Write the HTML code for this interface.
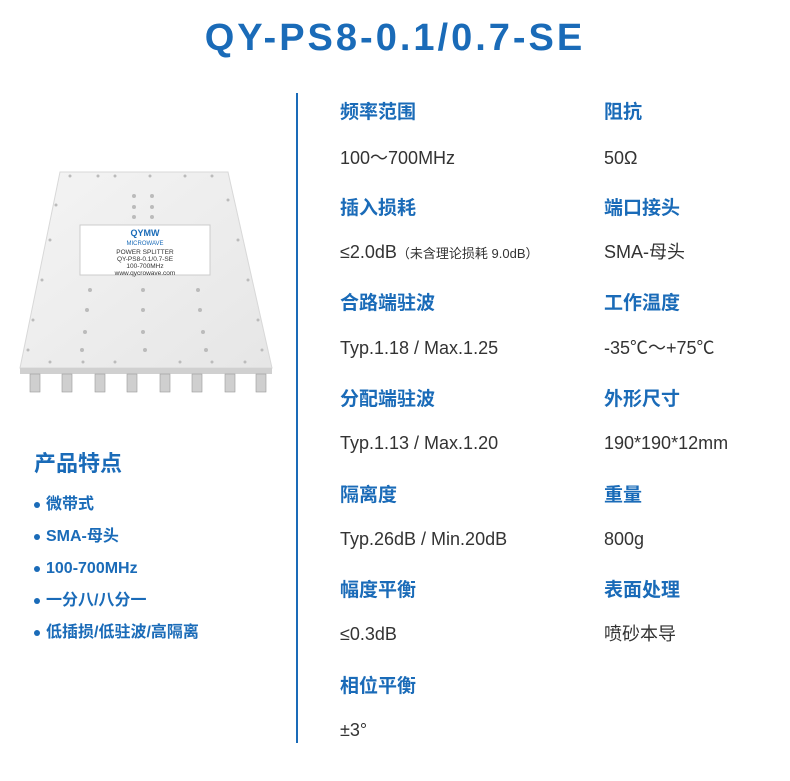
<!DOCTYPE html>
<html><head><meta charset="utf-8"><style>
body{margin:0;width:790px;height:779px;background:#fff;position:relative;overflow:hidden;font-family:"Liberation Sans","Noto Sans CJK SC",sans-serif}
.t{position:absolute;white-space:nowrap;line-height:24px;height:24px}
.h{color:#1a6bb8;font-weight:bold;font-size:19px}
.v{color:#333;font-size:18px}
.f{color:#1a6bb8;font-weight:bold;font-size:16px;left:34px}
.f:before{content:"";display:inline-block;width:6px;height:6px;border-radius:50%;background:#1a6bb8;margin-right:6px;vertical-align:middle}
.r{position:absolute;left:0;top:2px;width:790px;height:779px}
</style></head><body>
<div class="t" style="left:0;width:790px;text-align:center;top:14px;height:48px;line-height:48px;color:#1a6bb8;font-weight:bold;font-size:38px;letter-spacing:3px">QY-PS8-0.1/0.7-SE</div>
<div style="position:absolute;left:296px;top:93px;width:2px;height:650px;background:#1a6bb8"></div>
<svg style="position:absolute;left:0;top:150px" width="290" height="250">
<defs><linearGradient id="g" x1="0" y1="0" x2="1" y2="1"><stop offset="0" stop-color="#f4f4f4"/><stop offset="1" stop-color="#e6e6e6"/></linearGradient></defs>
<polygon points="60,22 228,22 272,218 20,218" fill="url(#g)" stroke="#d8d8d8"/>
<rect x="20" y="218" width="252" height="6" fill="#d0d0d0"/>
<g fill="#bbb">
<circle cx="90" cy="140" r="2"/><circle cx="143" cy="140" r="2"/><circle cx="198" cy="140" r="2"/>
<circle cx="87" cy="160" r="2"/><circle cx="143" cy="160" r="2"/><circle cx="200" cy="160" r="2"/>
<circle cx="85" cy="182" r="2"/><circle cx="143" cy="182" r="2"/><circle cx="203" cy="182" r="2"/>
<circle cx="82" cy="200" r="2"/><circle cx="145" cy="200" r="2"/><circle cx="206" cy="200" r="2"/>
<circle cx="134" cy="46" r="2"/><circle cx="152" cy="46" r="2"/><circle cx="134" cy="57" r="2"/><circle cx="152" cy="57" r="2"/><circle cx="134" cy="67" r="2"/><circle cx="152" cy="67" r="2"/>
<circle cx="70" cy="26" r="1.5"/><circle cx="98" cy="26" r="1.5"/><circle cx="115" cy="26" r="1.5"/><circle cx="150" cy="26" r="1.5"/><circle cx="185" cy="26" r="1.5"/><circle cx="212" cy="26" r="1.5"/>
<circle cx="56" cy="55" r="1.5"/><circle cx="50" cy="90" r="1.5"/><circle cx="42" cy="130" r="1.5"/><circle cx="33" cy="170" r="1.5"/><circle cx="28" cy="200" r="1.5"/>
<circle cx="228" cy="50" r="1.5"/><circle cx="238" cy="90" r="1.5"/><circle cx="248" cy="130" r="1.5"/><circle cx="258" cy="170" r="1.5"/><circle cx="262" cy="200" r="1.5"/>
<circle cx="50" cy="212" r="1.5"/><circle cx="83" cy="212" r="1.5"/><circle cx="115" cy="212" r="1.5"/><circle cx="180" cy="212" r="1.5"/><circle cx="212" cy="212" r="1.5"/><circle cx="245" cy="212" r="1.5"/>
</g>
<rect x="80" y="75" width="130" height="50" fill="#fff" stroke="#ccc"/>
<text x="145" y="86" font-size="9" fill="#1a6bb8" text-anchor="middle" font-weight="bold">QYMW</text>
<text x="145" y="95" font-size="6" fill="#1a6bb8" text-anchor="middle">MICROWAVE</text>
<text x="145" y="104" font-size="6.5" fill="#333" text-anchor="middle">POWER SPLITTER</text>
<text x="145" y="111" font-size="6.5" fill="#333" text-anchor="middle">QY-PS8-0.1/0.7-SE</text>
<text x="145" y="118" font-size="6.5" fill="#333" text-anchor="middle">100-700MHz</text>
<text x="145" y="125" font-size="6.5" fill="#333" text-anchor="middle">www.qycrowave.com</text>
<g fill="#cfcfcf" stroke="#999" stroke-width="0.6">
<rect x="30" y="224" width="10" height="18"/><rect x="62" y="224" width="10" height="18"/><rect x="95" y="224" width="10" height="18"/><rect x="127" y="224" width="10" height="18"/><rect x="160" y="224" width="10" height="18"/><rect x="192" y="224" width="10" height="18"/><rect x="225" y="224" width="10" height="18"/><rect x="256" y="224" width="10" height="18"/>
</g></svg>
<div class="r">
<div class="t" style="left:34px;top:446px;height:32px;line-height:32px;color:#1a6bb8;font-weight:bold;font-size:22px">产品特点</div>
<div class="t f" style="top:491px">微带式</div>
<div class="t f" style="top:523px">SMA-母头</div>
<div class="t f" style="top:555px">100-700MHz</div>
<div class="t f" style="top:587px">一分八/八分一</div>
<div class="t f" style="top:619px">低插损/低驻波/高隔离</div>

<div class="t h" style="left:340px;top:99px">频率范围</div><div class="t h" style="left:604px;top:99px">阻抗</div>
<div class="t v" style="left:340px;top:144px">100～700MHz</div><div class="t v" style="left:604px;top:144px">50Ω</div>
<div class="t h" style="left:340px;top:195px">插入损耗</div><div class="t h" style="left:604px;top:195px">端口接头</div>
<div class="t v" style="left:340px;top:238px">≤2.0dB<span style="font-size:13px">（未含理论损耗 9.0dB）</span></div><div class="t v" style="left:604px;top:238px">SMA-母头</div>
<div class="t h" style="left:340px;top:290px">合路端驻波</div><div class="t h" style="left:604px;top:290px">工作温度</div>
<div class="t v" style="left:340px;top:334px">Typ.1.18 / Max.1.25</div><div class="t v" style="left:604px;top:334px">-35℃～+75℃</div>
<div class="t h" style="left:340px;top:386px">分配端驻波</div><div class="t h" style="left:604px;top:386px">外形尺寸</div>
<div class="t v" style="left:340px;top:429px">Typ.1.13 / Max.1.20</div><div class="t v" style="left:604px;top:429px">190*190*12mm</div>
<div class="t h" style="left:340px;top:482px">隔离度</div><div class="t h" style="left:604px;top:482px">重量</div>
<div class="t v" style="left:340px;top:525px">Typ.26dB / Min.20dB</div><div class="t v" style="left:604px;top:525px">800g</div>
<div class="t h" style="left:340px;top:577px">幅度平衡</div><div class="t h" style="left:604px;top:577px">表面处理</div>
<div class="t v" style="left:340px;top:620px">≤0.3dB</div><div class="t v" style="left:604px;top:620px">喷砂本导</div>
<div class="t h" style="left:340px;top:673px">相位平衡</div>
<div class="t v" style="left:340px;top:716px">±3°</div>
</div>
</body></html>
